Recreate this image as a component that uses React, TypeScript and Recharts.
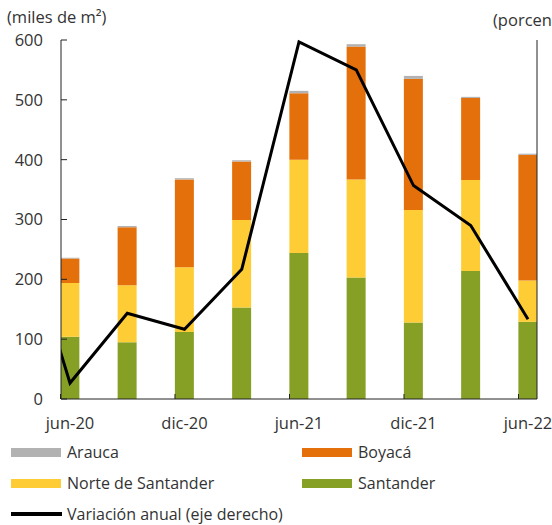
import React from "react"
import { ComposedChart, Bar, Line, XAxis, YAxis } from "recharts"

// trimestres; "mar-20" solo sirve para el tramo de la línea que entra por la izquierda
const periods = ["mar-20", "jun-20", "sep-20", "dic-20", "mar-21", "jun-21", "sep-21", "dic-21", "mar-22", "jun-22"]
const tickLabels = ["jun-20", "dic-20", "jun-21", "dic-21", "jun-22"]

// miles de m2
const santander = [null, 104, 95, 112, 153, 244, 203, 128, 214, 129]
const norteSantander = [null, 90, 95, 108, 146, 156, 164, 188, 152, 69]
const boyaca = [null, 41, 97, 147, 98, 111, 222, 219, 137, 210]
const arauca = [null, 1, 2, 2, 2, 4, 4, 5, 2, 2]

// porcentaje
const variacion = [42, -52, -17, -25, 5, 119, 105, 47, 27, -20]

const leftTicks = [0, 100, 200, 300, 400, 500, 600]
const rightTicks = [-60, -30, 0, 30, 60, 90, 120]

const series = [
  { key: "arauca", name: "Arauca", color: "#b2b2b2" },
  { key: "boyaca", name: "Boyacá", color: "#e4700c" },
  { key: "norte", name: "Norte de Santander", color: "#fecd35" },
  { key: "santander", name: "Santander", color: "#86a026" },
]
const lineName = "Variación anual (eje derecho)"

const data = periods.map((p, i) => ({
  idx: i,
  period: p,
  santander: santander[i],
  norte: norteSantander[i],
  boyaca: boyaca[i],
  arauca: arauca[i],
  variacion: variacion[i],
}))

const xTicks = tickLabels.map((t) => periods.indexOf(t))

const FONT = "'Open Sans', sans-serif"
const TEXT = "#333"
const AXIS = "#222"
const BAR_SIZE = 19
// half a bar of room on each side of the first and last shown quarter
const X_PAD = 0.1572

const colorOf = (k: string) => series.find((s) => s.key === k)!.color

function XTick(props: any) {
  const { x, y, payload } = props
  const label = periods[payload.value]
  if (!tickLabels.includes(label)) return <g />
  const edge = x - BAR_SIZE / 2
  return (
    <g>
      <line x1={edge} x2={edge} y1={y} y2={y - 5} stroke={AXIS} />
      <text x={x} y={y} dy={30} textAnchor="middle" fill={TEXT} fontSize={16.5} fontFamily={FONT}>
        {label}
      </text>
    </g>
  )
}

export default function App() {
  return (
    <div style={{ position: "absolute", left: 0, top: 0, width: 552, height: 525, overflow: "hidden", background: "#fff", fontFamily: FONT, color: TEXT }}>
      <div style={{ position: "absolute", left: 7, top: 5, fontSize: 16.5 }}>(miles de m²)</div>
      <div style={{ position: "absolute", left: 493, top: 8, fontSize: 16.5, whiteSpace: "nowrap" }}>(porcentaje)</div>

      <ComposedChart width={552} height={440} data={data} margin={{ top: 40, right: 0, bottom: 0, left: 0 }}>
        <XAxis
          dataKey="idx"
          type="number"
          domain={[1 - X_PAD, periods.length - 1 + X_PAD]}
          allowDataOverflow
          ticks={xTicks}
          interval={0}
          height={41}
          tickLine={false}
          tickSize={0}
          tickMargin={0}
          tick={<XTick />}
          axisLine={{ stroke: AXIS }}
        />
        <YAxis
          yAxisId="left"
          width={61}
          domain={[0, 600]}
          ticks={leftTicks}
          interval={0}
          tickSize={-6}
          tickMargin={24}
          tickLine={{ stroke: AXIS }}
          axisLine={{ stroke: AXIS }}
          tick={{ fill: TEXT, fontSize: 16.5, fontFamily: FONT }}
        />
        <YAxis
          yAxisId="right"
          orientation="right"
          width={15}
          domain={[-60, 120]}
          ticks={rightTicks}
          interval={0}
          tickSize={-6}
          tick={false}
          tickLine={{ stroke: AXIS }}
          axisLine={{ stroke: AXIS }}
        />
        <Bar yAxisId="left" dataKey="santander" stackId="a" barSize={BAR_SIZE} fill={colorOf("santander")} isAnimationActive={false} />
        <Bar yAxisId="left" dataKey="norte" stackId="a" barSize={BAR_SIZE} fill={colorOf("norte")} isAnimationActive={false} />
        <Bar yAxisId="left" dataKey="boyaca" stackId="a" barSize={BAR_SIZE} fill={colorOf("boyaca")} isAnimationActive={false} />
        <Bar yAxisId="left" dataKey="arauca" stackId="a" barSize={BAR_SIZE} fill={colorOf("arauca")} isAnimationActive={false} />
        <Line
          yAxisId="right"
          dataKey="variacion"
          type="linear"
          stroke="#000"
          strokeWidth={3}
          dot={false}
          isAnimationActive={false}
        />
      </ComposedChart>

      <div style={{ position: "absolute", left: 11, top: 441, width: 540, display: "grid", gridTemplateColumns: "291px 249px", rowGap: 9, fontSize: 16 }}>
        {series.map((s) => (
          <div key={s.key} style={{ display: "flex", alignItems: "center", height: 22 }}>
            <span style={{ display: "inline-block", width: 50, height: 9, background: s.color, marginRight: 6 }} />
            {s.name}
          </div>
        ))}
        <div style={{ display: "flex", alignItems: "center", height: 22, gridColumn: "1 / span 2" }}>
          <span style={{ display: "inline-block", width: 51, height: 4, background: "#000", marginRight: 5 }} />
          {lineName}
        </div>
      </div>
    </div>
  )
}
